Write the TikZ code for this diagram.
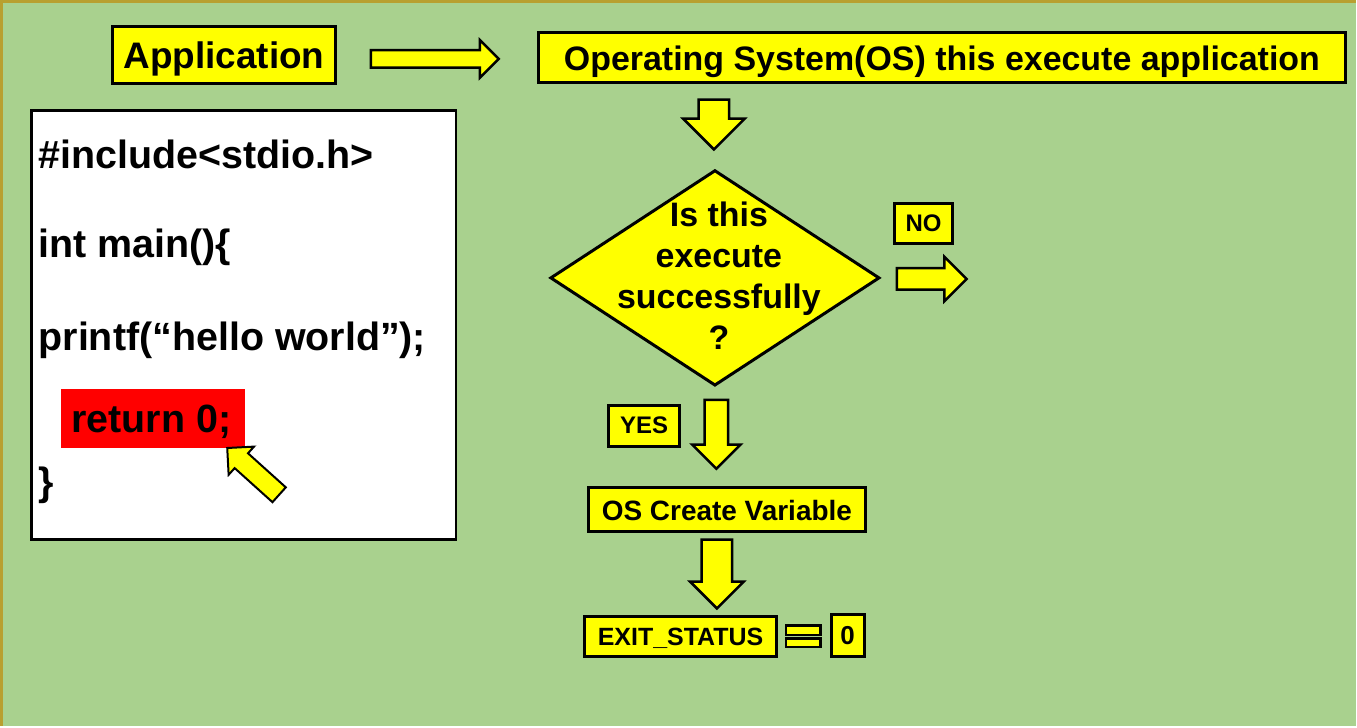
\documentclass[tikz,border=0pt]{standalone}
\usepackage{fontspec}
\setmainfont{Liberation Sans}
\usetikzlibrary{shapes.geometric,shapes.arrows,positioning}
\definecolor{slidegreen}{RGB}{169,209,142}
\definecolor{slideframe}{RGB}{184,160,48}
\definecolor{boxyellow}{RGB}{255,255,0}
\definecolor{hlred}{RGB}{255,0,0}
\newcommand{\fsz}[2]{\fontsize{#1pt}{#2pt}\selectfont\bfseries}

\begin{document}
\begin{tikzpicture}[x=1pt, y=-1pt,
    ybox/.style={rectangle, draw=black, fill=boxyellow, line width=3pt,
        inner sep=0pt, text depth=0pt},
    codeline/.style={anchor=base west, inner sep=0pt, font=\fsz{39.5}{47}},
    blockarr/.style={single arrow, draw=black, fill=boxyellow, line width=2.5pt,
        inner sep=0pt, single arrow tip angle=90, single arrow head indent=0pt},
    downarr/.style={blockarr, shape border rotate=270, anchor=tail},
    eqbar/.style={rectangle, draw=black, fill=boxyellow, line width=2.5pt,
        inner sep=0pt, minimum width=34.5pt}
]
\fill[slidegreen] (0,0) rectangle (1357,726);
\draw[slideframe, line width=3pt] (0,726) -- (0,0) -- (1357,0);

\node[ybox, minimum width=223pt, minimum height=57pt, font=\fsz{37}{44}] (app) at (223,54) {Application};
\node[ybox, minimum width=808pt, minimum height=50pt, font=\fsz{34}{41}] (os) at (942.5,56.5)
    {Operating System(OS) this execute application};
\node[blockarr, minimum height=128pt, inner ysep=7.5pt, single arrow head extend=10pt,
      anchor=tail] (apparr) at (369,57.5) {};

\node[downarr, minimum height=50pt, inner xsep=14pt, single arrow head extend=15.5pt]
    (osarr) at (714,97) {};
\node[diamond, draw=black, fill=boxyellow, line width=3pt, inner sep=0pt,
      minimum width=330pt, minimum height=216pt] (check) at (715,277) {};
\node[inner sep=0pt, align=center, font=\fsz{34}{41}] (checktxt) at (719,275)
    {Is this\\execute\\successfully\\?};

\node[ybox, minimum width=59pt, minimum height=40pt, font=\fsz{24}{29}] (no) at (924,222.5) {NO};
\node[blockarr, minimum height=70pt, inner ysep=9.5pt, single arrow head extend=11.5pt,
      anchor=tail] (noarr) at (896,278) {};

\node[ybox, minimum width=71pt, minimum height=41pt, font=\fsz{24}{29}] (yes) at (644,425) {YES};
\node[downarr, minimum height=69pt, inner xsep=10.5pt, single arrow head extend=12.5pt]
    (yesarr) at (716.5,398) {};

\node[ybox, minimum width=277pt, minimum height=44pt, font=\fsz{28}{34}] (create) at (727,509.5)
    {OS Create Variable};
\node[downarr, minimum height=69pt, inner xsep=14pt, single arrow head extend=11.5pt]
    (createarr) at (717,538) {};

\node[ybox, minimum width=192pt, minimum height=40pt, font=\fsz{25}{30}] (exit) at (680.5,636.5)
    {EXIT\_STATUS};
\node[eqbar, minimum height=9.5pt] (eqtop) at (803.5,630) {};
\node[eqbar, minimum height=8.5pt] (eqbot) at (803.5,642.5) {};
\node[ybox, minimum width=33pt, minimum height=42pt, font=\fsz{26}{31}] (zero) at (848,635.5) {0};

\node[rectangle, draw=black, fill=white, line width=3pt, minimum width=425pt,
      minimum height=430pt] (code) at (243,324.5) {};
\node[rectangle, fill=hlred, inner sep=0pt, minimum width=184pt, minimum height=59pt]
    (hl) at (152,417.5) {};
\node[codeline] (inc) at (37,167) {\#include<stdio.h>};
\node[codeline] (mainfn) at (37,257) {int main()\{};
\node[codeline] (printf) at (37,350) {printf(“hello world”);};
\node[codeline] (ret) at (70,432) {return 0;};
\node[codeline] (close) at (37,495) {\}};
\node[blockarr, minimum height=70pt, inner ysep=9pt, single arrow head extend=9pt,
      line width=2pt, rotate=138, anchor=tail] (retarr) at (279,495) {};
\end{tikzpicture}
\end{document}
